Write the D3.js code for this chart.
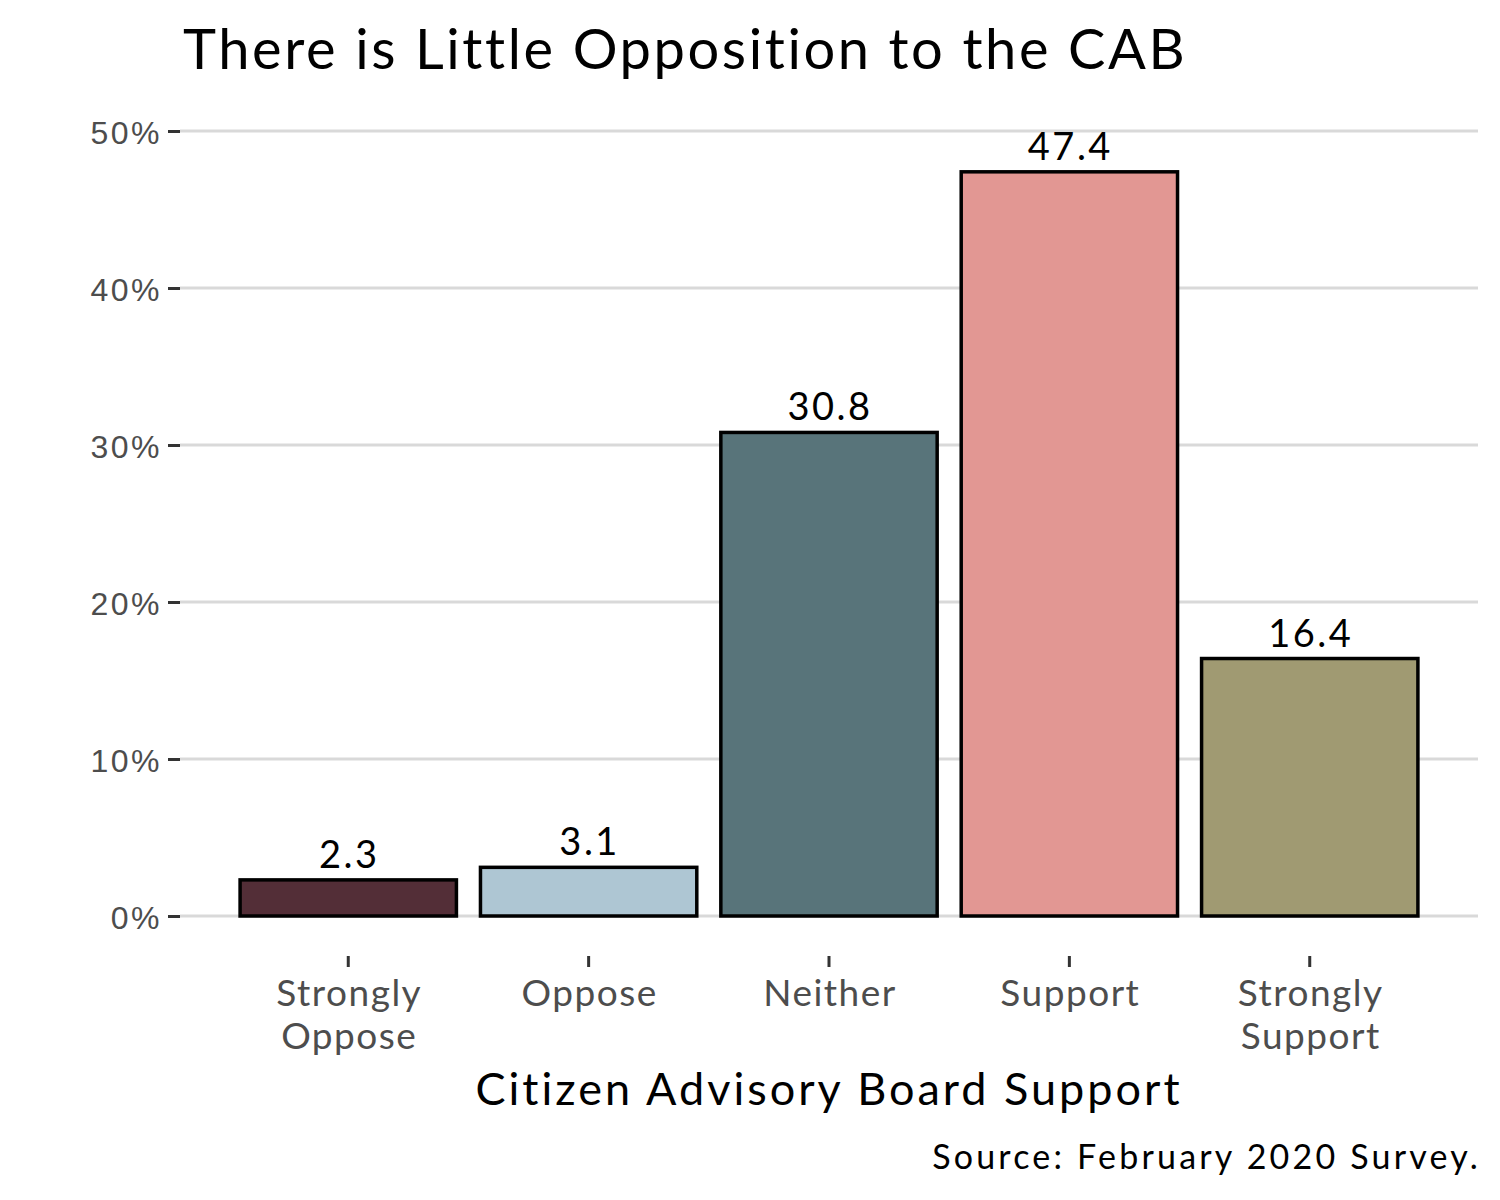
<!DOCTYPE html>
<html>
<head>
<meta charset="utf-8">
<script src="https://cdn.jsdelivr.net/npm/d3@7"></script>
<style>
  html, body { margin: 0; padding: 0; background: #fff; }
  svg { display: block; font-family: "Lato", "DejaVu Sans", sans-serif; }
</style>
</head>
<body>
<svg id="chart" width="1500" height="1200"></svg>
<script>
const categories = ["Strongly\nOppose", "Oppose", "Neither", "Support", "Strongly\nSupport"];
const values = [2.3, 3.1, 30.8, 47.4, 16.4];
const colors = ["#532E37", "#AEC6D3", "#58747A", "#E29793", "#A09A72"];
const yTicks = [0, 10, 20, 30, 40, 50];
const titleText = "There is Little Opposition to the CAB";
const xTitle = "Citizen Advisory Board Support";
const sourceText = "Source: February 2020 Survey.";

const svg = d3.select("#chart");
const pLeft = 180, pRight = 1478, pTop = 131, pBottom = 916;

const x = d3.scaleBand()
  .domain(categories)
  .range([pLeft, pRight])
  .paddingInner(0.1)
  .paddingOuter(0.25);

const y = d3.scaleLinear().domain([0, 50]).range([pBottom, pTop]);

// gridlines
svg.append("g").selectAll("line").data(yTicks).join("line")
  .attr("x1", pLeft).attr("x2", pRight)
  .attr("y1", d => y(d)).attr("y2", d => y(d))
  .attr("stroke", "#d9d9d9").attr("stroke-width", 3);

// y axis
const yAxis = svg.append("g").attr("transform", `translate(${pLeft},0)`)
  .call(d3.axisLeft(y).tickValues(yTicks).tickFormat(d => d + "%").tickSize(12).tickPadding(6));
yAxis.select(".domain").remove();
yAxis.selectAll(".tick line").attr("stroke", "#333").attr("stroke-width", 3);
yAxis.selectAll(".tick text").attr("fill", "#4d4d4d")
  .style("font-size", "32px").style("letter-spacing", "2.5px").attr("dy", "0.38em");

// bars
const data = categories.map((c, i) => ({ c, v: values[i], col: colors[i] }));
svg.append("g").selectAll("rect").data(data).join("rect")
  .attr("x", d => x(d.c))
  .attr("width", x.bandwidth())
  .attr("y", d => y(d.v))
  .attr("height", d => y(0) - y(d.v))
  .attr("fill", d => d.col)
  .attr("stroke", "#000").attr("stroke-width", 3.5);

// value labels
svg.append("g").selectAll("text").data(data).join("text")
  .attr("x", d => x(d.c) + x.bandwidth() / 2 + 1)
  .attr("y", d => y(d.v) - 12)
  .attr("text-anchor", "middle")
  .attr("fill", "#000")
  .style("font-size", "38px")
  .style("letter-spacing", "2.5px")
  .text(d => d.v);

// x axis
const xAxis = svg.append("g").attr("transform", `translate(0,${pBottom + 40})`)
  .call(d3.axisBottom(x).tickSize(11).tickPadding(0).tickFormat(""));
xAxis.select(".domain").remove();
xAxis.selectAll(".tick line").attr("stroke", "#333").attr("stroke-width", 3);

const xl = svg.append("g").selectAll("text").data(categories).join("text")
  .attr("text-anchor", "middle")
  .attr("fill", "#4d4d4d")
  .style("font-size", "37px")
  .style("letter-spacing", "1.5px");
xl.each(function(d) {
  const t = d3.select(this);
  d.split("\n").forEach((line, i) => {
    t.append("tspan")
      .attr("x", x(d) + x.bandwidth() / 2 + 1)
      .attr("y", 1006 + i * 43)
      .text(line);
  });
});

// axis title
svg.append("text")
  .attr("x", (pLeft + pRight) / 2).attr("y", 1105)
  .attr("text-anchor", "middle").attr("fill", "#000")
  .style("font-size", "45px")
  .style("letter-spacing", "3px")
  .text(xTitle);

// title
svg.append("text")
  .attr("x", 183).attr("y", 69)
  .attr("fill", "#000")
  .style("font-size", "56px")
  .style("letter-spacing", "2.6px")
  .text(titleText);

// source
svg.append("text")
  .attr("x", pRight + 3).attr("y", 1169)
  .attr("text-anchor", "end").attr("fill", "#000")
  .style("font-size", "34px")
  .style("letter-spacing", "3.2px")
  .text(sourceText);
</script>
</body>
</html>
